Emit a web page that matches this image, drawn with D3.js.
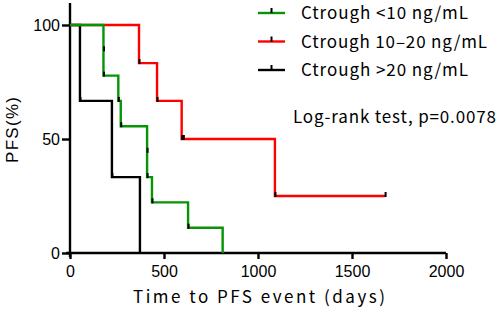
<!DOCTYPE html>
<html lang="en">
    <head>
        <meta charset="utf-8">
        <title>PFS Kaplan-Meier</title>
        <script type="text/javascript" src="https://cdn.jsdelivr.net/npm/d3@7"></script>
        <style type="text/css">
        body { margin: 0; background: #fff; }
        .axis path,
        .axis line {
            fill: none;
            stroke: black;
            stroke-width: 2.4px;
        }
        .axis text {
            font-family: "Liberation Sans", Arial, sans-serif;
            font-size: 16px;
            fill: black;
        }
        .lbl {
            font-family: "Noto Sans CJK JP", "Liberation Sans", sans-serif;
            fill: black;
        }
        </style>
    </head>
    <body>
        <script>
                var w = 498;
                var h = 309;

                // KM steps (days, % PFS)
                var greenTimes = [0, 178, 178, 257, 270, 410, 410, 436, 628, 812];
                var greenSurv  = [100, 88.9, 77.8, 66.7, 55.6, 44.4, 33.3, 22.2, 11.1, 0];

                var redTimes = [0, 367, 463, 594, 1090];
                var redSurv  = [100, 83.3, 66.7, 50, 25];
                var redCensorTimes = [603, 1676];
                var redCensorSurv  = [50, 25];

                var blackTimes = [0, 53, 223, 372];
                var blackSurv  = [100, 66.7, 33.3, 0];

                var xTicks = [0, 500, 1000, 1500, 2000];
                var yTicks = [0, 50, 100];

                var legendLabels = ["Ctrough <10 ng/mL", "Ctrough 10\u201320 ng/mL", "Ctrough >20 ng/mL"];
                var legendWidths = [167, 186, 167];
                var colors = ["#079407", "#ff0000", "#000000"];

                var xScale = d3.scaleLinear().domain([0, 2000]).range([70, 446]);
                var yScale = d3.scaleLinear().domain([0, 100]).range([253, 25]);

                var svg = d3.select("body")
                  .append("svg")
                  .attr("width", w)
                  .attr("height", h);

                // axes
                var xAxis = svg.append("g")
                  .attr("class", "axis")
                  .attr("transform", "translate(0," + yScale(0) + ")")
                  .call(d3.axisBottom(xScale).tickValues(xTicks).tickFormat(d3.format("d"))
                    .tickSize(6).tickSizeOuter(0).tickPadding(7));
                xAxis.select(".domain").attr("d", "M" + (xScale(0) - 4) + ",0H" + xScale(2000));

                var yAxis = svg.append("g")
                  .attr("class", "axis")
                  .attr("transform", "translate(" + xScale(0) + ",0)")
                  .call(d3.axisLeft(yScale).tickValues(yTicks).tickSize(8).tickSizeOuter(0).tickPadding(2));
                yAxis.select(".domain").attr("d", "M0,3V" + (yScale(0) + 4));

                // curves
                var step = d3.line()
                  .x(function (d) { return xScale(d[0]); })
                  .y(function (d) { return yScale(d[1]); })
                  .curve(d3.curveStepAfter);

                var groups = [
                  { t: blackTimes, s: blackSurv, c: colors[2], ct: [], cs: [] },
                  { t: redTimes, s: redSurv, c: colors[1], ct: redCensorTimes, cs: redCensorSurv },
                  { t: greenTimes, s: greenSurv, c: colors[0], ct: [], cs: [] }
                ];

                groups.forEach(function (g) {
                  var pts = g.t.map(function (t, i) { return [t, g.s[i]]; });
                  g.ct.forEach(function (t, i) { pts.push([t, g.cs[i]]); });
                  pts.sort(function (a, b) { return a[0] - b[0] || b[1] - a[1]; });
                  svg.append("path")
                    .datum(pts)
                    .attr("fill", "none")
                    .attr("stroke", g.c)
                    .attr("stroke-width", 2.4)
                    .attr("d", step);

                  // little black marks at each point
                  var marks = pts.filter(function (d) { return d[0] > 0 && d[1] > 0; });
                  svg.selectAll(null)
                    .data(marks)
                    .enter().append("line")
                    .attr("x1", function (d) { return xScale(d[0]) + 0.5; })
                    .attr("x2", function (d) { return xScale(d[0]) + 0.5; })
                    .attr("y1", function (d) { return yScale(d[1]) + 1; })
                    .attr("y2", function (d) { return yScale(d[1]) - 4; })
                    .attr("stroke", "black")
                    .attr("stroke-width", 2);
                });

                // legend
                var leg = svg.append("g");
                legendLabels.forEach(function (lab, i) {
                  var y = 13 + i * 28.5;
                  leg.append("line")
                    .attr("x1", 258).attr("x2", 285)
                    .attr("y1", y).attr("y2", y)
                    .attr("stroke", colors[i]).attr("stroke-width", 2.4);
                  leg.append("line")
                    .attr("x1", 271.5).attr("x2", 271.5)
                    .attr("y1", y).attr("y2", y - 5)
                    .attr("stroke", "black").attr("stroke-width", 2);
                  leg.append("text")
                    .attr("class", "lbl")
                    .attr("x", 301).attr("y", y + 6)
                    .attr("font-size", "17px")
                    .attr("textLength", legendWidths[i])
                    .text(lab);
                });

                svg.append("text")
                  .attr("class", "lbl")
                  .attr("x", 293).attr("y", 123)
                  .attr("font-size", "17px")
                  .attr("textLength", 203)
                  .text("Log-rank test, p=0.0078");

                svg.append("text")
                  .attr("class", "lbl")
                  .attr("x", 133).attr("y", 303)
                  .attr("font-size", "17px")
                  .attr("textLength", 252)
                  .text("Time to PFS event (days)");

                svg.append("text")
                  .attr("text-anchor", "middle")
                  .attr("transform", "rotate(-90)")
                  .attr("x", -130)
                  .attr("y", 18)
                  .attr("font-family", "'Liberation Sans', Arial, sans-serif")
                  .attr("font-size", "17px")
                  .attr("textLength", 66)
                  .text("PFS(%)");

            </script>
    </body>
</html>
